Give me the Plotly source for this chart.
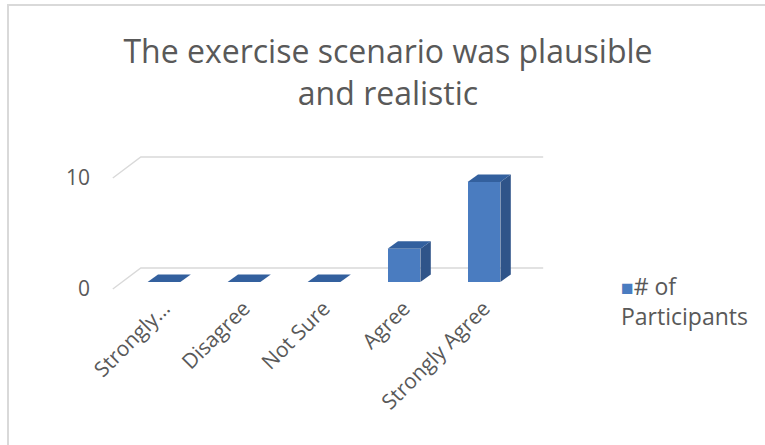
import plotly.graph_objects as go

# ---- data -------------------------------------------------------------
categories = ["Strongly Disagree", "Disagree", "Not Sure", "Agree", "Strongly Agree"]
tick_labels = ["Strongly…", "Disagree", "Not Sure", "Agree", "Strongly Agree"]
participants = [0, 0, 0, 3, 9]
value_ticks = [0, 10]
series_name = "# of<br>Participants"
title_text = "The exercise scenario was plausible<br>and realistic"

# ---- pseudo-3D geometry (axis units) ---------------------------------
BAR_W = 0.41          # front face width, category units
DEPTH_X = 0.13        # column depth, horizontal component (category units)
DEPTH_Y = 0.68        # column depth, vertical component (value units)
WALL_BACK_DY = 1.26   # back wall lifted relative to column fronts
WALL_FRONT_DY = -0.63 # front edge of the floor/side wall
WALL_BACK_X = -0.29
WALL_FRONT_X = -0.64
WALL_RIGHT_X = 4.74

FRONT = "#4A7CC0"
SIDE = "#2F5489"
TOP = "#33609E"
GRID = "#D9D9D9"
TEXT = "#595959"
FONT = "Open Sans"

W, H = 765, 445
ML, MR, MT, MB = 96, 201, 140, 154
X_RANGE = [-0.85, 5.0]
Y_RANGE = [-0.81, 12.79]

plot_w = W - ML - MR
plot_h = H - MT - MB


def px_to_paper_x(px):
    return (px - ML) / plot_w


def py_to_paper_y(py):
    return (H - MB - py) / plot_h


fig = go.Figure()

# gridlines running along the side wall and the back wall (kept behind the columns)
shapes = []
for v in value_ticks:
    shapes.append(dict(
        type="path", xref="x", yref="y", layer="below",
        path=(f"M{WALL_FRONT_X},{v + WALL_FRONT_DY} "
              f"L{WALL_BACK_X},{v + WALL_BACK_DY} "
              f"L{WALL_RIGHT_X},{v + WALL_BACK_DY}"),
        line=dict(color=GRID, width=1.4)))

# side and top faces of every column
for i, v in enumerate(participants):
    l, r = i - BAR_W / 2, i + BAR_W / 2
    if v > 0:
        fig.add_trace(go.Scatter(
            x=[r, r, r + DEPTH_X, r + DEPTH_X, r],
            y=[0, v, v + DEPTH_Y, DEPTH_Y, 0],
            mode="lines", fill="toself", fillcolor=SIDE, line=dict(width=0),
            hoverinfo="skip", showlegend=False))
    fig.add_trace(go.Scatter(
        x=[l, r, r + DEPTH_X, l + DEPTH_X, l],
        y=[v, v, v + DEPTH_Y, v + DEPTH_Y, v],
        mode="lines", fill="toself", fillcolor=TOP, line=dict(width=0),
        hoverinfo="skip", showlegend=False))

# front faces
fig.add_trace(go.Bar(x=list(range(len(categories))), y=participants, width=BAR_W,
                     marker=dict(color=FRONT, line=dict(width=0)),
                     customdata=categories, name="# of Participants",
                     hovertemplate="%{customdata}: %{y}<extra></extra>",
                     showlegend=False))

# chart frame (top and left edges)
shapes += [
    dict(type="line", xref="paper", yref="paper",
         x0=px_to_paper_x(7), x1=px_to_paper_x(W), y0=py_to_paper_y(5), y1=py_to_paper_y(5),
         line=dict(color="#D9D9D9", width=2)),
    dict(type="line", xref="paper", yref="paper",
         x0=px_to_paper_x(8), x1=px_to_paper_x(8), y0=py_to_paper_y(5), y1=py_to_paper_y(H),
         line=dict(color="#D9D9D9", width=2)),
]

annotations = [
    dict(xref="paper", yref="paper", x=px_to_paper_x(619), y=py_to_paper_y(301),
         xanchor="left", yanchor="middle", align="left", showarrow=False,
         text=f"<span style='color:{FRONT};font-size:21px'>■</span>{series_name}",
         font=dict(family=FONT, size=23, color=TEXT)),
]

fig.update_layout(
    width=W, height=H,
    margin=dict(l=ML, r=MR, t=MT, b=MB),
    paper_bgcolor="white", plot_bgcolor="white",
    title=dict(text=title_text, x=388 / W, xanchor="center", xref="container",
               y=1 - 63 / H, yanchor="top", yref="container",
               font=dict(family=FONT, size=32, color=TEXT)),
    xaxis=dict(range=X_RANGE, tickvals=list(range(len(categories))), ticktext=tick_labels,
               tickangle=-45, showgrid=False, zeroline=False, showline=False, ticks="",
               tickfont=dict(family=FONT, size=21, color=TEXT), fixedrange=True),
    yaxis=dict(range=Y_RANGE, tickvals=[v + WALL_FRONT_DY for v in value_ticks],
               ticktext=[str(v) for v in value_ticks], ticklabelstandoff=5,
               showgrid=False, zeroline=False, showline=False, ticks="",
               tickfont=dict(family=FONT, size=21, color=TEXT), fixedrange=True),
    shapes=shapes,
    annotations=annotations,
    showlegend=False,
    bargap=0,
)

fig.write_html("out.html")
